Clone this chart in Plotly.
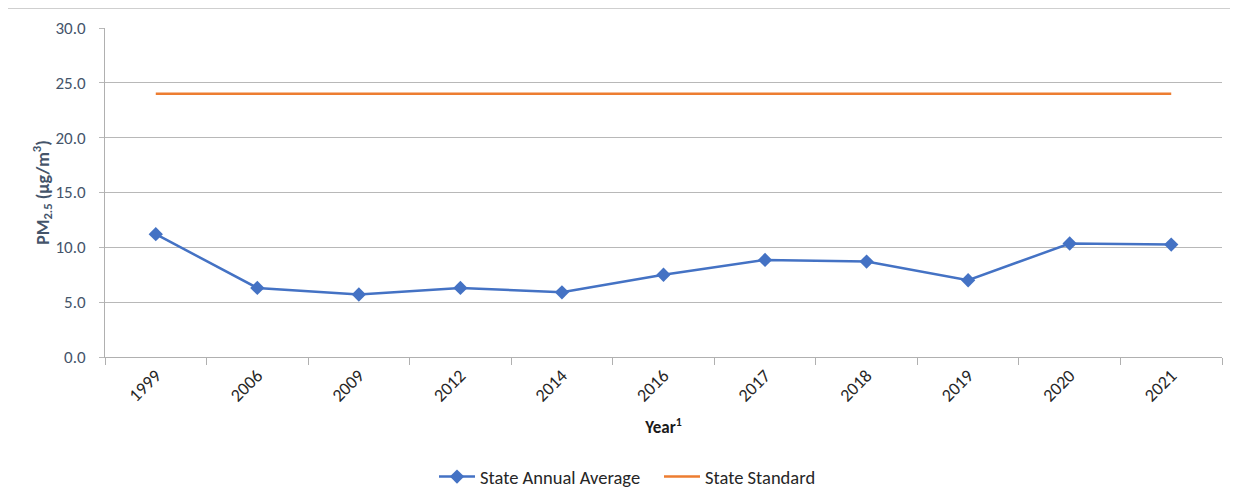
import plotly.graph_objects as go

years = ["1999", "2006", "2009", "2012", "2014", "2016", "2017", "2018", "2019", "2020", "2021"]
annual_avg = [11.2, 6.3, 5.7, 6.3, 5.9, 7.5, 8.85, 8.7, 7.0, 10.35, 10.25]
state_standard = [24.0] * len(years)
y_ticks = [0, 5, 10, 15, 20, 25, 30]
y_tick_labels = ["0.0", "5.0", "10.0", "15.0", "20.0", "25.0", "30.0"]

FONT = "Calibri, Carlito, Lato, 'Open Sans', sans-serif"

fig = go.Figure()
fig.add_trace(go.Scatter(
    x=years, y=annual_avg, mode="lines+markers", name="State Annual Average",
    line=dict(color="#4472C4", width=2.5),
    marker=dict(symbol="diamond", size=11, color="#4472C4"),
))
fig.add_trace(go.Scatter(
    x=years, y=state_standard, mode="lines", name="State Standard",
    line=dict(color="#ED7D31", width=2.5),
))

W, H = 1238, 502
OFF = 8  # page body offset
ml, mr, mt, mb = 105 - OFF, 16 + OFF, 28 - OFF, 145 + OFF

fig.update_layout(
    width=W, height=H,
    margin=dict(l=ml, r=mr, t=mt, b=mb, autoexpand=False),
    paper_bgcolor="white", plot_bgcolor="white",
    font=dict(family=FONT, size=16, color="#262626"),
    showlegend=True,
    legend=dict(orientation="h", x=(434 - OFF) / W, xanchor="left", xref="container",
                y=1 - (477 - OFF) / H, yanchor="middle", yref="container",
                font=dict(size=18.5, color="#262626"), itemwidth=36, entrywidth=174,
                entrywidthmode="pixels", tracegroupgap=0),
    xaxis=dict(
        type="category", showgrid=False, showline=True, linecolor="#b0b0b0", linewidth=1,
        ticks="outside", ticklen=7, tickcolor="#b0b0b0", tickson="boundaries",
        tickangle=-45, tickfont=dict(size=18, color="#262626"), automargin=False,
        range=[-0.5, len(years) - 0.5],
        title=dict(text="<b>Year<sup>1</sup></b>", font=dict(size=17, color="#1a1a1a"), standoff=15),
    ),
    yaxis=dict(
        range=[0, 30], tickvals=y_ticks, ticktext=y_tick_labels,
        showgrid=True, gridcolor="#b8b8b8", gridwidth=1,
        showline=True, linecolor="#b0b0b0", linewidth=1,
        ticks="outside", ticklen=5, tickcolor="#b8b8b8",
        tickfont=dict(size=17, color="#44546A"), automargin=False, ticklabelstandoff=10,
        zeroline=False,
        title=dict(text="<b>PM<sub>2.5</sub> (µg/m<sup>3</sup>)</b>", font=dict(size=18, color="#44546A"), standoff=0),
    ),
)

fig.add_shape(type="line", xref="paper", yref="paper",
              x0=-ml / (W - ml - mr), x1=(W - ml) / (W - ml - mr),
              y0=1 + (mt - (8 - OFF)) / (H - mt - mb), y1=1 + (mt - (8 - OFF)) / (H - mt - mb),
              line=dict(color="#a0a0a0", width=1))

fig.write_html("out.html")
